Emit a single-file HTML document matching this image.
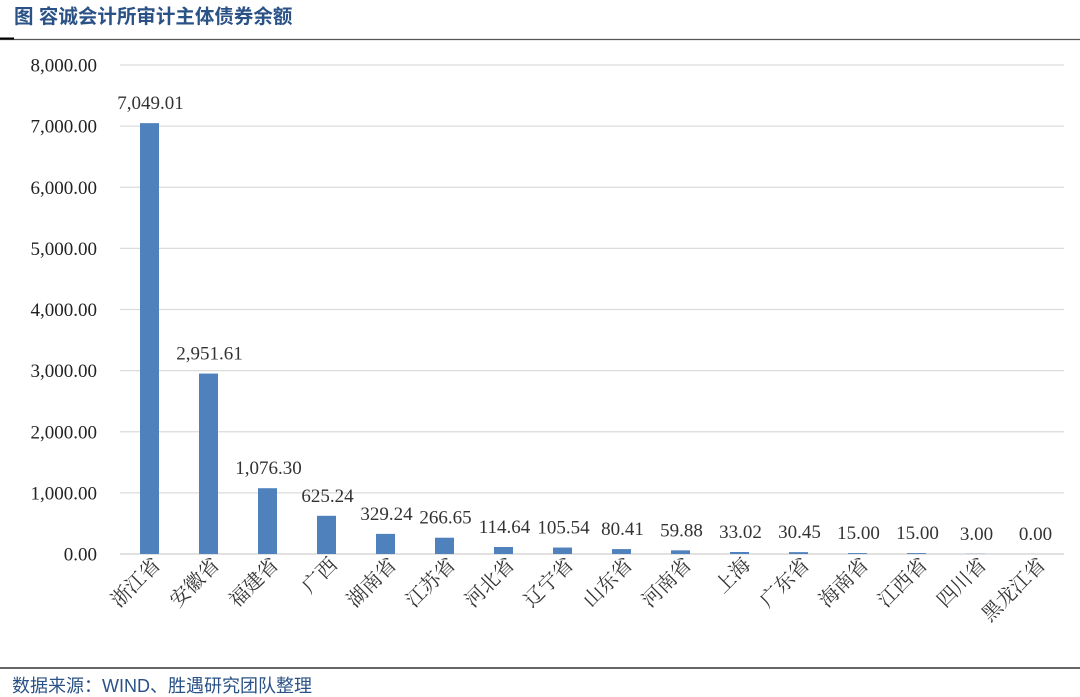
<!DOCTYPE html>
<html><head><meta charset="utf-8">
<style>
html,body{margin:0;padding:0;background:#fff;width:1080px;height:697px;overflow:hidden}
svg{display:block}
</style></head>
<body>
<svg width="1080" height="697" xmlns="http://www.w3.org/2000/svg">
<text x="14" y="23" font-family="'Liberation Sans','Noto Sans CJK SC',sans-serif" font-size="19.5" font-weight="bold" fill="#2b5286">图 容诚会计所审计主体债券余额</text>
<line x1="0" y1="39.5" x2="1080" y2="39.5" stroke="#555" stroke-width="1.2"/>
<line x1="0" y1="38.5" x2="14" y2="38.5" stroke="#000" stroke-width="2"/>
<g id="grid"></g>
<g id="bars"></g>
<line x1="0" y1="668" x2="1080" y2="668" stroke="#333" stroke-width="1.5"/>
<text x="12" y="692" font-family="'Liberation Sans','Noto Sans CJK SC',sans-serif" font-size="18" fill="#2b5286">数据来源：WIND、胜遇研究团队整理</text>
</svg>
<script>
const categories=["浙江省","安徽省","福建省","广西","湖南省","江苏省","河北省","辽宁省","山东省","河南省","上海","广东省","海南省","江西省","四川省","黑龙江省"];
const values=[7049.01,2951.61,1076.30,625.24,329.24,266.65,114.64,105.54,80.41,59.88,33.02,30.45,15.00,15.00,3.00,0.00];
const valueLabels=["7,049.01","2,951.61","1,076.30","625.24","329.24","266.65","114.64","105.54","80.41","59.88","33.02","30.45","15.00","15.00","3.00","0.00"];
const ticks=[0,1000,2000,3000,4000,5000,6000,7000,8000];
const tickLabels=["0.00","1,000.00","2,000.00","3,000.00","4,000.00","5,000.00","6,000.00","7,000.00","8,000.00"];
const NS="http://www.w3.org/2000/svg";
const x0=120,x1=1064,yBase=554,yTop=65,yMax=8000;
const band=(x1-x0)/categories.length;
const y=v=>yBase-(v/yMax)*(yBase-yTop);
const xc=i=>x0+band*(i+0.5);
const grid=document.getElementById('grid'),bars=document.getElementById('bars');
const serif="'Liberation Serif','Noto Serif CJK SC',serif";
ticks.forEach((t,i)=>{
  const l=document.createElementNS(NS,'line');
  l.setAttribute('x1',x0);l.setAttribute('x2',x1);l.setAttribute('y1',y(t));l.setAttribute('y2',y(t));
  l.setAttribute('stroke',t===0?'#cfcfcf':'#dcdcdc');l.setAttribute('stroke-width','1.2');
  
  
  grid.appendChild(l);
  const tx=document.createElementNS(NS,'text');
  tx.setAttribute('x',97);tx.setAttribute('y',y(t)+6.5);tx.setAttribute('text-anchor','end');
  tx.setAttribute('font-family',serif);tx.setAttribute('font-size','19');tx.setAttribute('fill','#222');
  tx.textContent=tickLabels[i];
  
  
  grid.appendChild(tx);
});
categories.forEach((c,i)=>{
  const cx=xc(i),bw=19;
  const r=document.createElementNS(NS,'rect');
  r.setAttribute('x',cx-bw/2);r.setAttribute('y',y(values[i]));r.setAttribute('width',bw);
  r.setAttribute('height',Math.max(0,yBase-y(values[i])));r.setAttribute('fill','#4f81bd');
  
  
  bars.appendChild(r);
  const vl=document.createElementNS(NS,'text');
  vl.setAttribute('x',cx+1);vl.setAttribute('y',y(values[i])-14);vl.setAttribute('text-anchor','middle');
  vl.setAttribute('font-family',serif);vl.setAttribute('font-size','19');vl.setAttribute('fill','#333');
  vl.textContent=valueLabels[i];
  
  
  bars.appendChild(vl);
  const cl=document.createElementNS(NS,'text');
  const lx=cx+12,ly=566;
  cl.setAttribute('x',lx);cl.setAttribute('y',ly);cl.setAttribute('text-anchor','end');
  cl.setAttribute('transform','rotate(-45 '+lx+' '+ly+')');
  cl.setAttribute('font-family',"'Liberation Serif','Noto Serif CJK SC',serif");cl.setAttribute('font-size','20');cl.setAttribute('fill','#333');
  cl.textContent=c;
  
  
  bars.appendChild(cl);
});
</script>
</body></html>
